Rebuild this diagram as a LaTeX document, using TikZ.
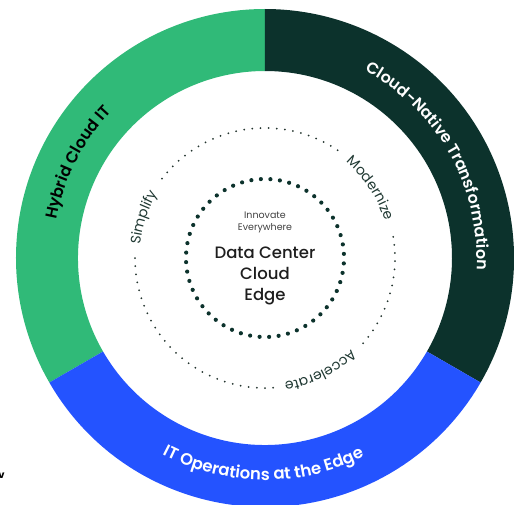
\documentclass[tikz,border=0pt]{standalone}
\usepackage{fontspec}
\setmainfont{Poppins}
\IfFontExistsTF{Poppins SemiBold}{\newfontfamily\popsemi{Poppins SemiBold}}{\newcommand\popsemi{\bfseries}}
\IfFontExistsTF{Poppins Medium}{\newfontfamily\popmed{Poppins Medium}}{\newcommand\popmed{\bfseries}}
\usetikzlibrary{decorations.text}
\definecolor{jungle}{HTML}{30BA78}
\definecolor{pine}{HTML}{0C322C}
\definecolor{waterhole}{HTML}{2453FF}
\definecolor{inktext}{HTML}{1E1E1E}
\definecolor{labelink}{HTML}{1F3832}
\definecolor{dotgray}{HTML}{24352F}
\begin{document}
\begin{tikzpicture}[x=1pt,y=1pt,
  ringtext/.style={decorate, decoration={text along path, text align=center, text color=#1}},
  bigdot/.style={fill=pine},
  smalldot/.style={fill=dotgray}]
\useasboundingbox (-265,-246) rectangle (249,258);
\clip (-265,-246) rectangle (249,258);
% ring sectors
\fill[jungle] (90:249) arc[start angle=90,end angle=210,radius=249] -- (210:187) arc[start angle=210,end angle=90,radius=187] -- cycle;
\fill[pine] (-30:249) arc[start angle=-30,end angle=90,radius=249] -- (90:187) arc[start angle=90,end angle=-30,radius=187] -- cycle;
\fill[waterhole] (210:249) arc[start angle=210,end angle=330,radius=249] -- (330:187) arc[start angle=330,end angle=210,radius=187] -- cycle;
% ring labels
\path[ringtext=black, decoration={text={|\popsemi\fontsize{16}{18}\selectfont|Hybrid Cloud IT}}]
  (198:212) arc[start angle=198,end angle=108,radius=212];
\path[ringtext=white, decoration={text={|\popsemi\fontsize{16}{18}\selectfont|Cloud-Native Transformation}}]
  (89.4:212) arc[start angle=89.4,end angle=-30.6,radius=212];
\path[ringtext=white, decoration={text={|\popsemi\fontsize{16.5}{19}\selectfont|IT Operations at the Edge}}]
  (209.5:222) arc[start angle=209.5,end angle=329.5,radius=222];
% outer dotted circle
\foreach \a in {56,59.6,...,143} \fill[smalldot] (\a:130) circle (1);
\foreach \a in {180,183.6,...,274} \fill[smalldot] (\a:130) circle (1);
\foreach \a in {319,322.6,...,371.5} \fill[smalldot] (\a:130) circle (1);
% small labels
\path[ringtext=labelink, decoration={text={|\fontsize{14}{16}\selectfont|Simplify}}]
  (201.5:125.5) arc[start angle=201.5,end angle=121.5,radius=125.5];
\path[ringtext=labelink, decoration={text={|\fontsize{14}{16}\selectfont|Modernize}}]
  (73.5:125.5) arc[start angle=73.5,end angle=-6.5,radius=125.5];
\path[ringtext=labelink, decoration={text={|\fontsize{14}{16}\selectfont|Accelerate}}]
  (-23.8:125.5) arc[start angle=-23.8,end angle=-103.8,radius=125.5];
% inner dotted circle
\foreach \i in {0,...,51} \fill[bigdot] ({\i*6.923+3}:79) circle (2.1);
% center texts
\node[font=\fontsize{9.5}{12}\selectfont, text=inktext!85, align=center] (innov) at (0,36) {Innovate\\Everywhere};
\node[font=\popmed\fontsize{16.5}{21}\selectfont, text=inktext, align=center] (dce) at (0,-18) {Data Center\\Cloud\\Edge};
% stray fragment at lower left
\node[font=\bfseries\fontsize{10}{12}\selectfont, text=black] (stray) at (-263.5,-218) {v};
\end{tikzpicture}
\end{document}
